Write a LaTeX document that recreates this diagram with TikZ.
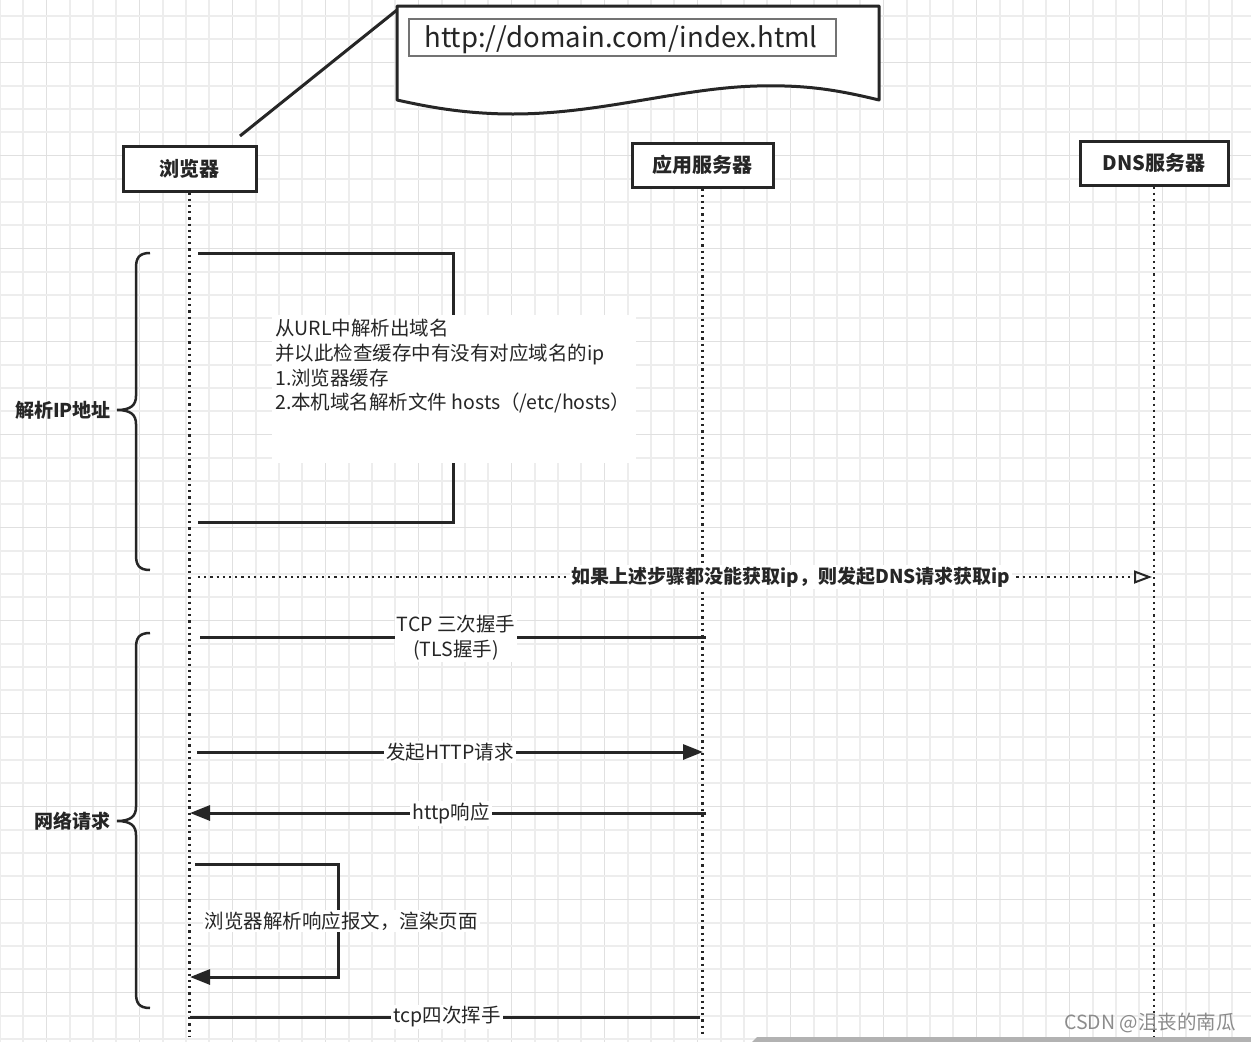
\documentclass[tikz,border=0pt]{standalone}
\usepackage{fontspec}
\setmainfont{Noto Sans CJK SC}
\usetikzlibrary{arrows.meta}
\definecolor{ink}{HTML}{262626}
\definecolor{gridmin}{HTML}{EDEDED}
\definecolor{gridmaj}{HTML}{E0E0E0}
\tikzset{
  actor/.style={draw=ink, line width=3pt, fill=white, inner sep=0pt, text=ink, font=\fontsize{20}{24}\selectfont\bfseries},
  life/.style={draw=ink, line width=2.4pt, dash pattern=on 2.2pt off 4pt},
  msg/.style={draw=ink, line width=3pt},
  fwd/.style={msg, -{Triangle[length=20pt,width=15pt]}},
  dnsmsg/.style={draw=ink, line width=2.4pt, dash pattern=on 2.2pt off 4pt, -{Triangle[open, length=18pt, width=13pt, line width=2pt]}},
  lbl/.style={fill=white, inner sep=2pt, text=ink, font=\fontsize{19.5}{24.7}\selectfont},
  blbl/.style={lbl, font=\fontsize{19}{25}\selectfont\bfseries},
  bracel/.style={draw=ink, line width=2.5pt},
}
\begin{document}
\begin{tikzpicture}[x=1pt,y=-1pt]
\useasboundingbox (0,0) rectangle (1251,1042);
\fill[white] (0,0) rectangle (1251,1042);
% grid
\foreach \i in {0,...,54} {
  \pgfmathtruncatemacro{\m}{mod(\i,4)}
  \ifnum\m=2 \draw[gridmaj, line width=1.6pt] ({23.25*\i},0) -- ({23.25*\i},1042);
  \else \draw[gridmin, line width=1.6pt] ({23.25*\i},0) -- ({23.25*\i},1042); \fi
}
\foreach \i in {0,...,44} {
  \pgfmathtruncatemacro{\m}{mod(\i,4)}
  \ifnum\m=2 \draw[gridmaj, line width=1.6pt] (0,{16+23.25*\i}) -- (1251,{16+23.25*\i});
  \else \draw[gridmin, line width=1.6pt] (0,{16+23.25*\i}) -- (1251,{16+23.25*\i}); \fi
}
% bottom band
\fill[black!30] (752,1042) -- (757,1037) -- (1251,1037) -- (1251,1042) -- cycle;

% callout note
\coordinate (callA) at (240,136);
\coordinate (callB) at (397,10);
\draw[ink, line width=3pt] (callA) -- (callB);
\draw[ink, line width=3pt, fill=white, line join=round] (397,6) -- (879,6) -- (879,100)
  .. controls (830,88) and (800,85) .. (757,86)
  .. controls (680,88) and (600,114) .. (513,114)
  .. controls (460,114) and (420,105) .. (397,100) -- cycle;
\node[draw=black!55, line width=1.5pt, minimum width=427pt, minimum height=37pt, inner sep=0pt] (url) at (622.5,37.5) {};
\node[font=\fontsize{27.5}{30}\selectfont, text=ink, inner sep=0pt] (urltxt) at (621,40) {http://domain.com/index.html};

% actors
\node[actor, minimum width=133pt, minimum height=45pt] (br) at (189.5,168.5) {浏览器};
\node[actor, minimum width=141pt, minimum height=44pt] (app) at (702.5,165) {应用服务器};
\node[actor, minimum width=148pt, minimum height=44pt] (dns) at (1154,163) {DNS服务器};

% lifelines
\coordinate (brEnd) at (189.5,1036);
\coordinate (appEnd) at (702.5,1036);
\coordinate (dnsEnd) at (1154,1036);
\draw[life] (br.south) -- (brEnd);
\draw[life] (app.south) -- (appEnd);
\draw[life] (dns.south) -- (dnsEnd);

% braces
\draw[bracel] (150,253) .. controls (139,253) and (136,258) .. (136,268) -- (136,396)
  .. controls (136,405) and (131,410) .. (117,410)
  .. controls (131,410) and (136,415) .. (136,424) -- (136,555)
  .. controls (136,565) and (139,570) .. (150,570);
\node[blbl, fill=none, anchor=east, inner sep=0pt] (lblA) at (111,410) {解析IP地址};
\draw[bracel] (150,633) .. controls (139,633) and (136,638) .. (136,648) -- (136,807)
  .. controls (136,816) and (131,821) .. (117,821)
  .. controls (131,821) and (136,826) .. (136,835) -- (136,993)
  .. controls (136,1003) and (139,1008) .. (150,1008);
\node[blbl, fill=none, anchor=east, inner sep=0pt] (lblB) at (111,821) {网络请求};

% self loop 1
\coordinate (s1a) at (198,253);
\coordinate (s1b) at (453,253);
\coordinate (s1c) at (453,522);
\coordinate (s1d) at (198,522);
\draw[msg] (s1a) -- (s1b) -- (s1c) -- (s1d);
\node[fill=white, minimum width=364pt, minimum height=148pt, anchor=north west, inner sep=0pt] (notebg) at (272,315) {};
\node[lbl, fill=none, anchor=north west, inner sep=3pt, align=left] (notetxt) at (272,316)
  {从URL中解析出域名\\并以此检查缓存中有没有对应域名的ip\\1.浏览器缓存\\2.本机域名解析文件 hosts（/etc/hosts）};

% DNS request
\coordinate (d1) at (198,577);
\coordinate (d2) at (1152,577);
\draw[dnsmsg] (d1) -- (d2);
\node[blbl] (dnslbl) at (791,577) {如果上述步骤都没能获取ip，则发起DNS请求获取ip};

% TCP
\coordinate (t1) at (200,637);
\coordinate (t2) at (706,637);
\draw[msg] (t1) -- (t2);
\node[lbl, align=center] (tcplbl) at (456,638) {TCP 三次握手\\(TLS握手)};

% HTTP request
\coordinate (h1) at (197,752);
\coordinate (h2) at (703,752);
\draw[fwd] (h1) -- (h2);
\node[lbl] (reqlbl) at (450,752) {发起HTTP请求};

% HTTP response
\coordinate (r1) at (706,813);
\coordinate (r2) at (190,813);
\draw[fwd] (r1) -- (r2);
\node[lbl] (resplbl) at (451,813) {http响应};

% self loop 2
\coordinate (s2a) at (195,864);
\coordinate (s2b) at (338,864);
\coordinate (s2c) at (338,977);
\coordinate (s2d) at (190,977);
\draw[fwd, line join=miter] (s2a) -- (s2b) -- (s2c) -- (s2d);
\node[lbl] (rendlbl) at (341,921) {浏览器解析响应报文，渲染页面};

% TCP close
\coordinate (c1) at (190,1017);
\coordinate (c2) at (700,1017);
\draw[msg] (c1) -- (c2);
\node[lbl] (closelbl) at (447,1017) {tcp四次挥手};

% watermark
\node[text=black!45, font=\fontsize{19.5}{22}\selectfont, inner sep=0pt] (wm) at (1150,1023) {CSDN @沮丧的南瓜};
\end{tikzpicture}
\end{document}
